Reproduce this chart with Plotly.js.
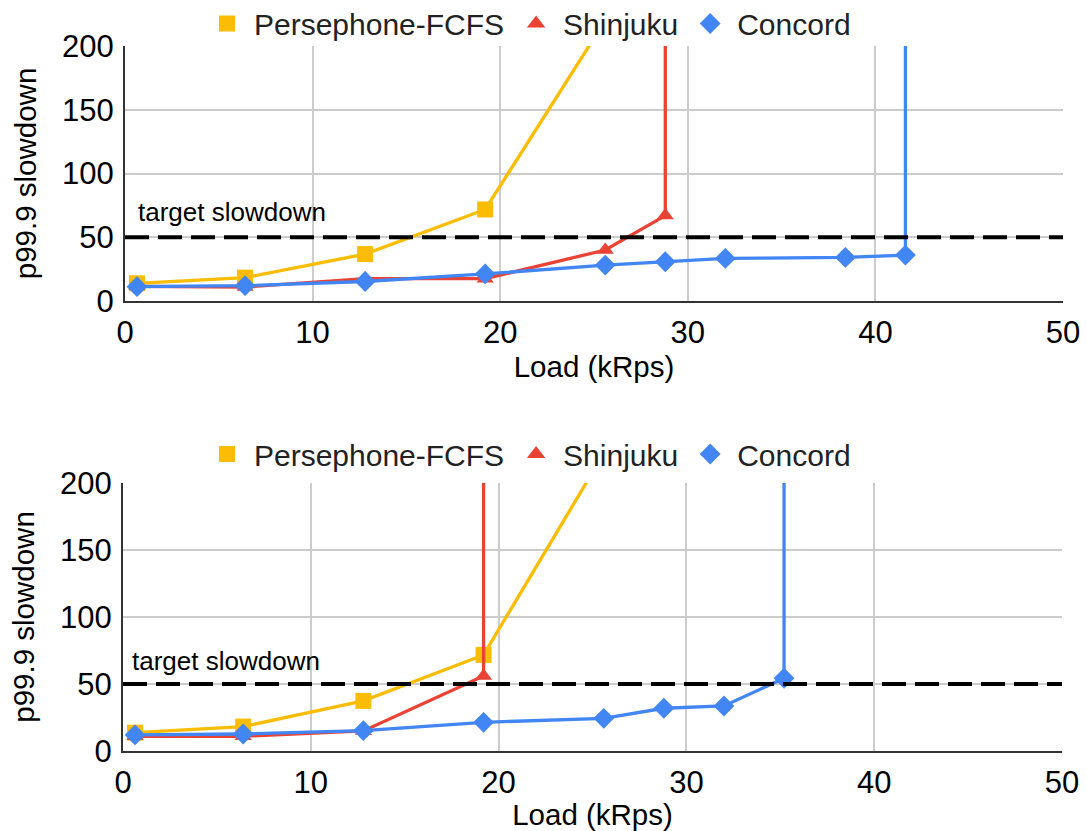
<!DOCTYPE html>
<html>
<head>
<meta charset="utf-8">
<script src="https://cdn.plot.ly/plotly-3.0.1.min.js"></script>
<style>html,body{margin:0;padding:0;background:#fff;}#chart{width:1087px;height:831px;}</style>
</head>
<body>
<div id="chart"></div>
<script>
// ---- data (top panel) ----
const topPersephoneX = [0.64, 6.4, 12.8, 19.2, 25.6];
const topPersephoneY = [13.9, 18.3, 36.8, 71.8, 220];
const topShinjukuX = [0.64, 6.4, 12.8, 19.2, 25.6, 28.8, 28.8];
const topShinjukuY = [11.5, 11, 17.5, 17.5, 40, 67, 1000];
const topConcordX = [0.64, 6.4, 12.8, 19.2, 25.6, 28.8, 32, 38.4, 41.6, 41.6];
const topConcordY = [11.2, 12, 15.3, 21.2, 28.2, 30.8, 33.4, 34.2, 36, 1000];
// ---- data (bottom panel) ----
const botPersephoneX = [0.64, 6.4, 12.8, 19.2, 25.6];
const botPersephoneY = [13.7, 18.2, 37.4, 71.7, 222];
const botShinjukuX = [0.64, 6.4, 12.8, 19.2, 19.2];
const botShinjukuY = [11, 11, 15, 56, 1000];
const botConcordX = [0.64, 6.4, 12.8, 19.2, 25.6, 28.8, 32, 35.2, 35.2];
const botConcordY = [12, 12.7, 15.2, 21.4, 24.4, 31.9, 33.6, 54.3, 1000];
// ---- reference line / labels ----
const targetSlowdown = 50;
const xRange = [0, 50];
const yRange = [0, 200];
const xTicks = [0, 10, 20, 30, 40, 50];
const yTicks = [0, 50, 100, 150, 200];
const seriesNames = ['Persephone-FCFS', 'Shinjuku', 'Concord'];
const colors = ['#FBBC04', '#EA4335', '#4285F4'];
const symbols = ['square', 'triangle-up', 'diamond'];
const markerSizes = [16, 15, 16];

const FONT = 'Liberation Sans, Arial, sans-serif';
const traces = [];
function addPanel(xs, ys, xa, ya, legendName) {
  for (let i = 0; i < 3; i++) {
    traces.push({
      x: xs[i], y: ys[i], xaxis: xa, yaxis: ya, type: 'scatter', mode: 'lines+markers',
      line: {color: colors[i], width: 3.3},
      marker: {color: colors[i], symbol: symbols[i], size: markerSizes[i]},
      showlegend: false, hoverinfo: 'skip'
    });
  }
  for (let i = 0; i < 3; i++) {
    traces.push({
      x: [null], y: [null], xaxis: xa, yaxis: ya, type: 'scatter', mode: 'markers',
      name: seriesNames[i], legend: legendName,
      marker: {color: colors[i], symbol: symbols[i], size: 16},
      showlegend: true
    });
  }
}
addPanel([topPersephoneX, topShinjukuX, topConcordX], [topPersephoneY, topShinjukuY, topConcordY], 'x', 'y', 'legend');
addPanel([botPersephoneX, botShinjukuX, botConcordX], [botPersephoneY, botShinjukuY, botConcordY], 'x2', 'y2', 'legend2');

function xaxis(domain, anchor) {
  return {
    domain: domain, anchor: anchor, range: xRange, tickvals: xTicks, ticktext: xTicks.map(String),
    showgrid: true, gridcolor: '#cccccc', gridwidth: 2, zeroline: false,
    showline: true, linecolor: '#333333', linewidth: 2, ticks: '', ticklabelstandoff: 3,
    tickfont: {family: FONT, size: 31, color: '#000'},
    title: {text: 'Load (kRps)', font: {family: FONT, size: 29.5, color: '#000'}, standoff: 6},
    automargin: false, fixedrange: true
  };
}
function yaxis(domain, anchor) {
  return {
    domain: domain, anchor: anchor, range: yRange, tickvals: yTicks, ticktext: yTicks.map(String),
    showgrid: true, gridcolor: '#cccccc', gridwidth: 2, zeroline: false,
    showline: true, linecolor: '#333333', linewidth: 2, ticks: '', ticklabelstandoff: 3,
    tickfont: {family: FONT, size: 31, color: '#000'},
    title: {text: 'p99.9 slowdown', font: {family: FONT, size: 29.5, color: '#000'}, standoff: 17},
    automargin: false, fixedrange: true
  };
}
function legend(y) {
  return {
    orientation: 'h', x: 200 / 1087, xanchor: 'left', y: y, yanchor: 'middle',
    font: {family: FONT, size: 30, color: '#222'}, bgcolor: 'rgba(0,0,0,0)', itemwidth: 44
  };
}

const layout = {
  width: 1087, height: 831,
  margin: {l: 0, r: 0, t: 0, b: 0, autoexpand: false},
  paper_bgcolor: '#fff', plot_bgcolor: '#fff',
  showlegend: true,
  xaxis: xaxis([125 / 1087, 1063 / 1087], 'y'),
  yaxis: yaxis([(831 - 301) / 831, (831 - 46) / 831], 'x'),
  xaxis2: xaxis([123 / 1087, 1062 / 1087], 'y2'),
  yaxis2: yaxis([(831 - 751) / 831, (831 - 483) / 831], 'x2'),
  legend: legend(1 - 23.5 / 831),
  legend2: legend(1 - 454 / 831),
  shapes: [
    {type: 'line', xref: 'x', yref: 'y', x0: xRange[0], x1: xRange[1], y0: targetSlowdown, y1: targetSlowdown,
     line: {color: '#000', width: 4, dash: '24px,9px'}},
    {type: 'line', xref: 'x2', yref: 'y2', x0: xRange[0], x1: xRange[1], y0: targetSlowdown, y1: targetSlowdown,
     line: {color: '#000', width: 4, dash: '24px,9px'}}
  ],
  annotations: [
    {xref: 'x', yref: 'y', x: 0.6, y: 70, xanchor: 'left', yanchor: 'middle', showarrow: false,
     text: 'target slowdown', font: {family: FONT, size: 26, color: '#000'}},
    {xref: 'x2', yref: 'y2', x: 0.35, y: 67, xanchor: 'left', yanchor: 'middle', showarrow: false,
     text: 'target slowdown', font: {family: FONT, size: 26, color: '#000'}}
  ]
};

Plotly.newPlot('chart', traces, layout, {staticPlot: true, displayModeBar: false});
</script>
</body>
</html>
